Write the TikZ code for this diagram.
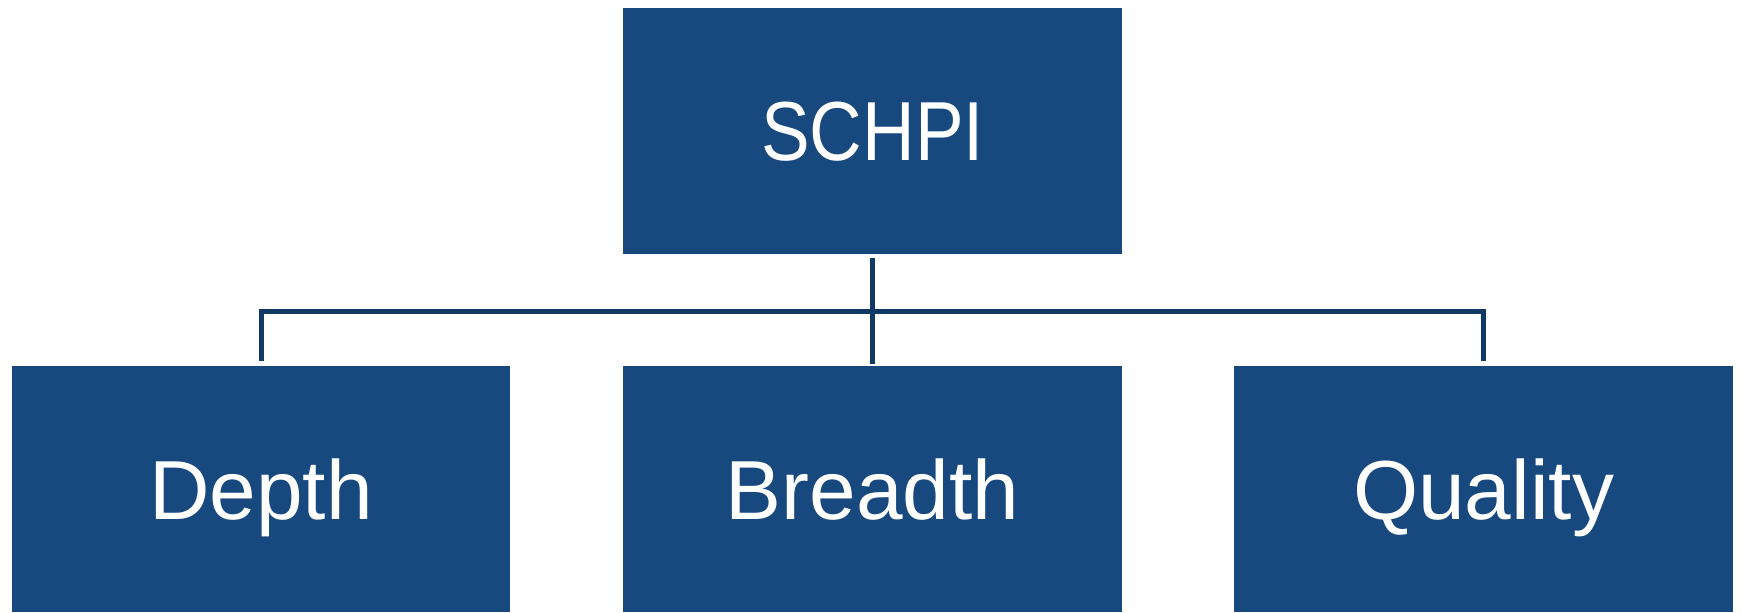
\documentclass[tikz,border=0pt]{standalone}
\usepackage{fontspec}
\setmainfont{Liberation Sans}
\usepackage{xcolor}
\usepackage{tikz}
\usetikzlibrary{positioning}

\definecolor{boxblue}{RGB}{23,73,127}
\definecolor{lineblue}{RGB}{16,58,100}

\begin{document}
\begin{tikzpicture}[x=0.02cm,y=-0.02cm]
      \tikzstyle{level_box}=[fill=boxblue,draw=none,text=white,minimum width=9.98cm,minimum height=4.92cm,inner sep=0pt,text height=1.2cm,text depth=0cm,font=\fontsize{47.7}{57}\selectfont]
      \tikzstyle{link}=[draw=lineblue,line width=0.1cm]

      \useasboundingbox (0,0) rectangle (1741,612);

      \node [level_box] (schpi) at (872.5,131) {\scalebox{0.87}[1]{SCHPI}};

      \begin{scope}
        \node [level_box] (depth) at (261,489) {Depth};
        \node [level_box] (breadth) at (872.5,489) {Breadth};
        \node [level_box] (quality) at (1483.5,489) {Quality};
      \end{scope}

      % bus line between the levels
      \coordinate (bus) at (872.5,311);
      \draw [link,shorten <=0.08cm,shorten >=0.04cm] (schpi.south) -- (breadth.north);
      \draw [link,shorten <=0.1cm,shorten >=0.1cm] (depth.north) |- (bus) -| (quality.north);

    \end{tikzpicture}
\end{document}
